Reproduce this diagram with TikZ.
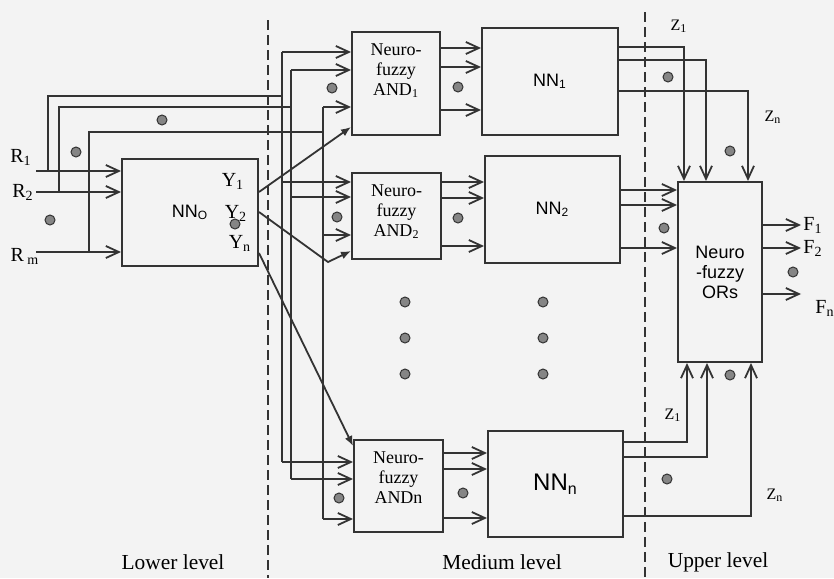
\documentclass[tikz,border=0pt]{standalone}
\usepackage{fontspec}
\setmainfont{Liberation Serif}
\setsansfont{Liberation Sans}
\usetikzlibrary{arrows.meta,calc}
\definecolor{DiagInk}{HTML}{333333}
\definecolor{DiagDot}{HTML}{858585}
\definecolor{DiagPaper}{HTML}{F3F3F3}
\tikzset{
  wire/.style={-{Straight Barb[length=6.5pt,width=6pt]},line width=0.9pt,draw=DiagInk},
  plainwire/.style={line width=0.9pt,draw=DiagInk},
  feed/.style={-{Latex[length=5pt,width=4pt]},line width=0.9pt,draw=DiagInk},
  block/.style={draw=DiagInk,line width=1pt,inner sep=0pt},
  nnbox/.style={block,font=\sffamily\fontsize{9}{10}\selectfont},
  andtext/.style={align=center,font=\fontsize{9}{10}\selectfont,anchor=north,inner sep=0pt,yshift=-6pt},
  gapdot/.style={circle,fill=DiagDot,draw=DiagInk,line width=0.5pt,minimum size=5pt,inner sep=0pt},
  level/.style={font=\fontsize{10.7}{12}\selectfont},
  sig/.style={font=\fontsize{10}{12}\selectfont,inner sep=1pt},
  tag/.style={font=\fontsize{8}{10}\selectfont,inner sep=1pt},
  divider/.style={dash pattern=on 5pt off 2.5pt,line width=0.9pt,draw=DiagInk}
}
\begin{document}
\begin{tikzpicture}[x=0.5pt,y=-0.5pt]
  \fill[DiagPaper] (0,0) rectangle (834,578);
  \useasboundingbox (0,0) rectangle (834,578);

  % level dividers
  \draw[divider] (268,20) -- (268,578);
  \draw[divider] (645,12) -- (645,578);

  % blocks
  \node[nnbox,minimum width=68pt,minimum height=53.5pt] (nno) at (190,212.5) {NN\textsubscript{O}};
  \node[block,minimum width=44pt,minimum height=51.5pt,
    label={[andtext]north:{Neuro-\\fuzzy\\AND\textsubscript{1}}}] (and1) at (396,83.5) {};
  \node[block,minimum width=44.5pt,minimum height=43pt,
    label={[andtext]north:{Neuro-\\fuzzy\\AND\textsubscript{2}}}] (and2) at (396.5,216) {};
  \node[block,minimum width=44.5pt,minimum height=46pt,
    label={[andtext]north:{Neuro-\\fuzzy\\ANDn}}] (andn) at (398.5,486) {};
  \node[nnbox,minimum width=68pt,minimum height=53.5pt] (nn1) at (550,81.5) {NN\textsubscript{1}};
  \node[nnbox,minimum width=67.5pt,minimum height=53.5pt] (nn2) at (552.5,209.5) {NN\textsubscript{2}};
  \node[nnbox,minimum width=67.5pt,minimum height=53pt,font=\sffamily\fontsize{12}{14}\selectfont] (nnn) at (555.5,484) {NN\textsubscript{n}};
  \node[block,minimum width=42pt,minimum height=90pt,align=center,
    font=\sffamily\fontsize{9}{10}\selectfont] (orbox) at (720,272) {Neuro\\-fuzzy\\ORs};

  % inputs
  \coordinate (r1in) at (36,171);
  \coordinate (r2in) at (36,192);
  \coordinate (rmin) at (36,252);
  \node[sig] (r1lbl) at (21,157) {R\textsubscript{1}};
  \node[sig] (r2lbl) at (23,192) {R\textsubscript{2}};
  \node[sig] (rmlbl) at (25,256) {R\,\textsubscript{m}};
  \draw[wire] (r1in) -- (r1in -| nno.west);
  \draw[wire] (r2in) -- (r2in -| nno.west);
  \draw[wire] (rmin) -- (rmin -| nno.west);

  % input buses to the AND blocks
  \coordinate (bus1) at (282,0);
  \coordinate (bus2) at (291,0);
  \coordinate (bus3) at (323,0);
  \draw[plainwire] (r1in -| 48,0) |- (bus1 |- 0,96);
  \draw[plainwire] (r2in -| 59,0) |- (bus2 |- 0,107);
  \draw[plainwire] (rmin -| 89,0) |- (bus3 |- 0,132);
  \draw[plainwire] (bus1 |- 0,52) -- (bus1 |- 0,462);
  \draw[plainwire] (bus2 |- 0,70) -- (bus2 |- 0,479);
  \draw[plainwire] (bus3 |- 0,107) -- (bus3 |- 0,519);
  \foreach \y/\blk in {52/and1,182/and2,462/andn}
    \draw[wire] (bus1 |- 0,\y) -- (\blk.west |- 0,\y);
  \foreach \y/\blk in {70/and1,197/and2,479/andn}
    \draw[wire] (bus2 |- 0,\y) -- (\blk.west |- 0,\y);
  \foreach \y/\blk in {107/and1,235/and2,519/andn}
    \draw[wire] (bus3 |- 0,\y) -- (\blk.west |- 0,\y);

  % Y outputs of NN_O
  \coordinate (y2bend) at (328,262);
  \draw[feed] (nno.east |- 0,192) -- ($(and1.south west)+(0,-9)$);
  \draw[feed] (nno.east |- 0,212) -- (y2bend) -- ($(and2.south west)+(0,-9)$);
  \draw[feed] (nno.east |- 0,253) -- ($(andn.north west)+(0,7)$);
  \node[sig] (y1lbl) at (233,181) {Y\textsubscript{1}};
  \node[sig] (y2lbl) at (236,213) {Y\textsubscript{2}};
  \node[sig] (ynlbl) at (240,243) {Y\textsubscript{n}};

  % AND -> NN
  \foreach \y in {48,67,110}
    \draw[wire] (and1.east |- 0,\y) -- (nn1.west |- 0,\y);
  \foreach \y in {182,198,246}
    \draw[wire] (and2.east |- 0,\y) -- (nn2.west |- 0,\y);
  \foreach \y in {453,469,518}
    \draw[wire] (andn.east |- 0,\y) -- (nnn.west |- 0,\y);

  % NN -> ORs
  \foreach \y/\dx in {47/7,60/29,91/71}
    \draw[wire] (nn1.east |- 0,\y) -| ($(orbox.north west)+(\dx,0)$);
  \foreach \y in {190,205,248}
    \draw[wire] (nn2.east |- 0,\y) -- (orbox.west |- 0,\y);
  \foreach \y/\dx in {442/10,457/30,516/74}
    \draw[wire] (nnn.east |- 0,\y) -| ($(orbox.south west)+(\dx,0)$);
  \node[tag] (z1top) at (679,26) {Z\textsubscript{1}};
  \node[tag] (zntop) at (773,117) {Z\textsubscript{n}};
  \node[tag] (z1bot) at (673,415) {Z\textsubscript{1}};
  \node[tag] (znbot) at (775,495) {Z\textsubscript{n}};

  % outputs
  \node[sig,anchor=west] (f1) at (801,225) {F\textsubscript{1}};
  \node[sig,anchor=west] (f2) at (801,248) {F\textsubscript{2}};
  \node[sig,anchor=west] (fn) at (813,308) {F\textsubscript{n}};
  \draw[wire] (orbox.east |- f1) -- (f1.west);
  \draw[wire] (orbox.east |- f2) -- (f2.west);
  \draw[wire] (orbox.east |- 0,294) -- (f2.west |- 0,294);

  % ellipsis dots
  \foreach \px/\py [count=\i] in {76/152,162/120,50/220,235/224,332/88,458/87,337/217,
      458/218,339/498,463/493,405/302,405/338,405/374,543/302,543/338,543/374,
      668/77,730/151,664/228,730/375,667/479,793/272}
    \node[gapdot] (dot\i) at (\px,\py) {};

  % levels
  \node[level] (lowlbl) at (173,562) {Lower level};
  \node[level] (midlbl) at (502,562) {Medium level};
  \node[level] (uplbl) at (718,562) {Upper level};
\end{tikzpicture}
\end{document}
